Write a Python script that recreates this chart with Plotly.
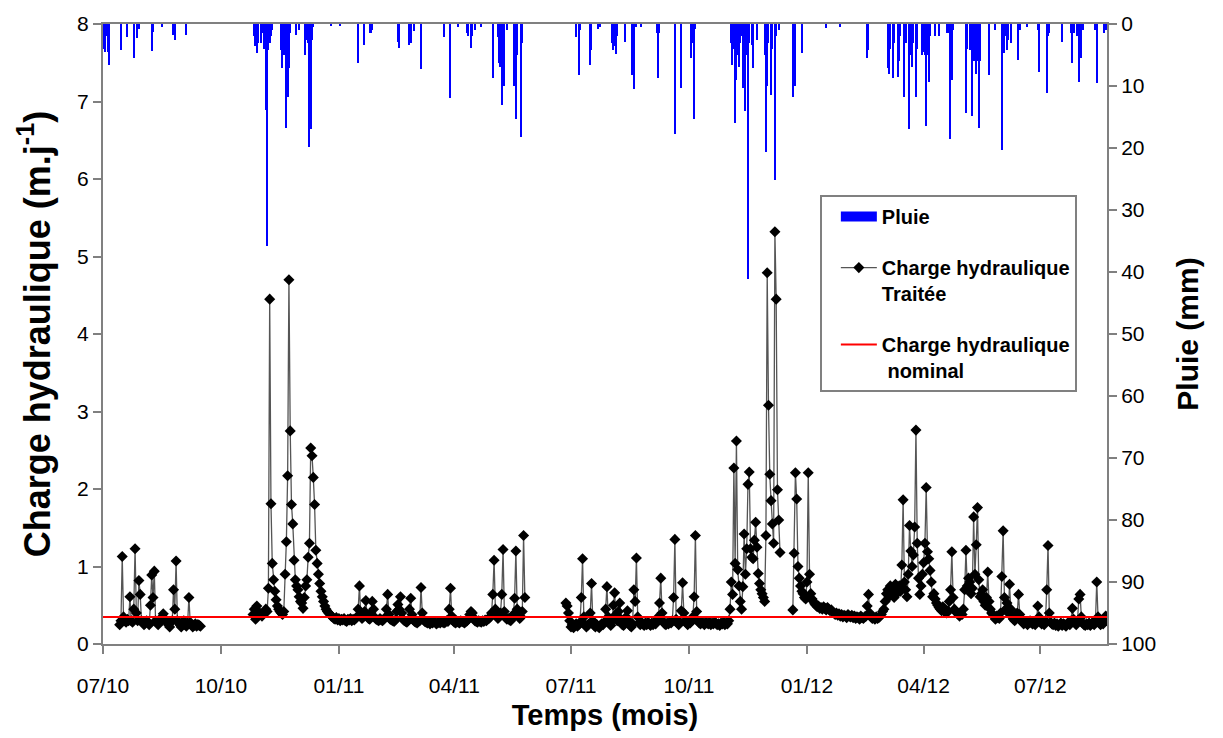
import pandas as pd
import plotly.graph_objects as go

# ---------------- DATA ----------------
RECORD_START = "2010-07-01"
AXIS_END = "2012-08-22"
NOMINAL = 0.35  # m.j-1

# Charge hydraulique traitée (m.j-1), daily values for each measurement period
SEG1_START = "2010-07-14"
SEG1 = [0.25, 0.30, 1.13, 0.35, 0.30, 0.28, 0.32, 0.30, 0.61, 0.30,
        0.28, 0.45, 1.23, 0.40, 0.30, 0.82, 0.64, 0.30, 0.28, 0.25,
        0.27, 0.30, 0.28, 0.25, 0.50, 0.89, 0.60, 0.94, 0.30, 0.27,
        0.25, 0.28, 0.30, 0.35, 0.39, 0.33, 0.30, 0.28, 0.25, 0.22,
        0.28, 0.30, 0.70, 0.45, 1.07, 0.30, 0.27, 0.25, 0.22, 0.28,
        0.30, 0.25, 0.23, 0.27, 0.60, 0.28, 0.25, 0.22, 0.24, 0.26,
        0.23, 0.25, 0.24, 0.23]

SEG2_START = "2010-10-26"
SEG2 = [0.38, 0.45, 0.32, 0.49, 0.42, 0.40, 0.38, 0.36, 0.40, 0.42,
        0.45, 0.42, 0.72, 4.45, 1.81, 1.04, 0.83, 0.68, 0.57, 0.49,
        0.45, 0.42, 0.40, 0.38, 0.42, 0.90, 1.32, 2.17, 4.70, 2.75,
        1.80, 1.55, 1.08, 0.83, 0.75, 0.70, 0.61, 0.55, 0.53, 0.46,
        0.60, 0.75, 0.83, 1.12, 1.30, 2.53, 2.43, 2.15, 1.80, 1.21,
        1.04, 0.90, 0.78, 0.68, 0.61, 0.55, 0.49, 0.45, 0.42, 0.40,
        0.38, 0.36, 0.35, 0.33, 0.32, 0.34, 0.31, 0.33, 0.30, 0.32,
        0.31, 0.33, 0.30, 0.29, 0.32, 0.31, 0.33, 0.30, 0.32, 0.31,
        0.33, 0.35, 0.45, 0.75, 0.38, 0.33, 0.35, 0.42, 0.56, 0.36,
        0.33, 0.32, 0.40, 0.55, 0.45, 0.34, 0.32, 0.31, 0.30, 0.33,
        0.31, 0.30, 0.32, 0.34, 0.45, 0.64, 0.38, 0.32, 0.31, 0.30,
        0.29, 0.31, 0.42, 0.51, 0.45, 0.61, 0.40, 0.32, 0.30, 0.29,
        0.28, 0.30, 0.45, 0.59, 0.38, 0.31, 0.29, 0.28, 0.27, 0.29,
        0.30, 0.73, 0.40, 0.31, 0.29, 0.28, 0.27, 0.28, 0.26, 0.28,
        0.27, 0.29, 0.28, 0.26, 0.27, 0.28, 0.27, 0.29, 0.28, 0.27,
        0.28, 0.30, 0.29, 0.45, 0.72, 0.36, 0.30, 0.28, 0.27, 0.29,
        0.28, 0.27, 0.30, 0.29, 0.28, 0.27, 0.29, 0.30, 0.33, 0.38,
        0.42, 0.40, 0.34, 0.30, 0.29, 0.28, 0.30, 0.29, 0.28, 0.30,
        0.29, 0.31, 0.30, 0.32, 0.33, 0.35, 0.40, 0.64, 1.08, 0.45,
        0.36, 0.33, 0.35, 0.40, 0.64, 1.22, 0.42, 0.34, 0.32, 0.33,
        0.31, 0.30, 0.33, 0.38, 0.59, 1.20, 0.45, 0.36, 0.33, 0.35,
        0.42, 1.40, 0.60]

SEG3_START = "2011-06-27"
SEG3 = [0.53, 0.49, 0.40, 0.30, 0.22, 0.25, 0.21, 0.24, 0.26, 0.23,
        0.25, 0.28, 0.60, 1.10, 0.35, 0.25, 0.22, 0.24, 0.26, 0.40,
        0.78, 0.30, 0.24, 0.22, 0.25, 0.23, 0.21, 0.24, 0.26, 0.25,
        0.28, 0.45, 0.74, 0.35, 0.27, 0.24, 0.30, 0.50, 0.66, 0.38,
        0.30, 0.42, 0.53, 0.32, 0.25, 0.24, 0.28, 0.35, 0.43, 0.30,
        0.24, 0.22, 0.26, 0.70, 0.55, 1.11, 0.35, 0.27, 0.25, 0.28,
        0.26, 0.24, 0.27, 0.25, 0.28, 0.26, 0.24, 0.27, 0.25, 0.28,
        0.26, 0.30, 0.35, 0.53, 0.85, 0.40, 0.29, 0.26, 0.25, 0.27,
        0.26, 0.28, 0.27, 0.30, 0.60, 1.35, 0.32, 0.27, 0.25, 0.28,
        0.43, 0.79, 0.40, 0.30, 0.27, 0.25, 0.28, 0.27, 0.30, 0.35,
        0.61, 1.40, 0.42, 0.30, 0.27, 0.26, 0.28, 0.27, 0.25, 0.28,
        0.27, 0.26, 0.28, 0.25, 0.27, 0.26, 0.28, 0.27, 0.25, 0.26,
        0.24, 0.27, 0.26, 0.28, 0.25, 0.27, 0.26, 0.30, 0.45, 0.80,
        0.64, 2.27, 1.04, 2.62, 0.96, 0.75, 0.55, 0.45, 0.74, 1.42,
        0.90, 1.23, 2.06, 2.22, 1.23, 1.12, 1.10, 1.34, 1.57, 1.25,
        0.91, 0.78, 0.70, 0.65, 0.60, 0.55, 1.40, 4.79, 3.08, 2.19,
        1.85, 1.55, 1.30, 5.32, 4.45, 1.99, 1.60, 1.18]

SEG4_START = "2011-12-21"
SEG4 = [0.44, 1.17, 2.21, 1.87, 1.00, 0.85, 0.75, 0.68, 0.65, 0.60,
        0.58, 0.80, 2.21, 0.90, 0.65, 0.58, 0.55, 0.52, 0.50, 0.48,
        0.49, 0.46, 0.47, 0.45, 0.48, 0.46, 0.44, 0.47, 0.45, 0.43,
        0.44, 0.42, 0.40, 0.38, 0.40, 0.37, 0.39, 0.36, 0.38, 0.35,
        0.37, 0.36, 0.34, 0.38, 0.36, 0.35, 0.37, 0.34, 0.36, 0.33,
        0.35, 0.34, 0.32, 0.36, 0.34, 0.33, 0.35, 0.36, 0.49, 0.64,
        0.40, 0.35, 0.33, 0.34, 0.32, 0.35, 0.33, 0.34, 0.36, 0.38,
        0.42, 0.45, 0.55, 0.65, 0.70, 0.61, 0.75, 0.68, 0.72, 0.60,
        0.77, 0.65, 0.70, 0.75, 0.68, 1.02, 1.86, 0.80, 0.70, 0.61,
        0.90, 1.53, 1.20, 1.00, 1.15, 1.51, 2.76, 1.30, 0.85, 0.64,
        0.75, 0.90, 1.05, 1.30, 2.02, 1.19, 1.10, 0.95, 0.80, 0.61,
        0.65, 0.58, 0.53, 0.50, 0.47, 0.45, 0.43, 0.48, 0.42, 0.44,
        0.40, 0.43, 0.55, 0.70, 1.19, 0.60, 0.45, 0.42, 0.40, 0.38,
        0.36, 0.40, 0.38, 0.45, 0.70, 1.21, 0.75, 0.85, 0.80, 0.65,
        0.72, 1.64, 0.90, 1.28, 1.76, 0.83, 0.61, 0.65, 0.70, 0.55,
        0.50, 0.60, 0.93, 0.55, 0.45, 0.40, 0.38, 0.35, 0.32, 0.36,
        0.34, 0.33, 0.40, 0.87, 1.46, 0.60, 0.45, 0.53, 0.40, 0.77,
        0.45, 0.35, 0.32, 0.30, 0.34, 0.40, 0.64, 0.38, 0.30, 0.28,
        0.26, 0.29, 0.27, 0.25, 0.28, 0.30, 0.27, 0.26, 0.28, 0.25,
        0.30, 0.49, 0.35, 0.28, 0.26, 0.27, 0.25, 0.30, 0.70, 1.27,
        0.40, 0.28, 0.26, 0.25, 0.27, 0.24, 0.26, 0.23, 0.25, 0.27,
        0.24, 0.26, 0.25, 0.23, 0.26, 0.28, 0.25, 0.30, 0.46, 0.32,
        0.27, 0.25, 0.30, 0.58, 0.64, 0.35, 0.27, 0.25, 0.24, 0.26,
        0.25, 0.27, 0.24, 0.26, 0.28, 0.25, 0.30, 0.80, 0.35, 0.27,
        0.25, 0.28, 0.26, 0.30, 0.36]

# Pluie (mm): day of record (days since RECORD_START) and daily rainfall
RAIN_DAY = [1, 2, 3, 4, 5, 14, 19, 24, 27, 28, 38, 39, 46, 55, 56, 65,
            118, 119, 120, 121, 123, 124, 126, 127, 128, 129, 130, 131, 132,
            139, 140, 141, 142, 143, 144, 145, 146, 151, 153, 158, 159, 160,
            161, 162, 163, 164, 178, 185, 199, 204, 208, 209, 210,
            230, 231, 239, 240, 243, 248, 266, 271, 277, 284, 285, 287, 288,
            290, 295, 304, 308, 309, 310, 311, 313, 315, 321, 322, 323, 326,
            327, 369, 371, 372, 380, 381, 386, 388, 397, 398, 399, 400, 401,
            407, 413, 414, 416, 420, 432, 433, 434, 446, 451, 459, 460, 461,
            462, 490, 491, 492, 493, 494, 495, 496, 497, 498, 499, 500, 501,
            502, 503, 504, 506, 507, 510, 516, 517, 518, 519, 521, 522, 524,
            525, 527, 538, 539, 540, 545, 564, 575, 596, 597, 612, 613, 614,
            616, 617, 620, 621, 622, 625, 626, 629, 630, 631, 632, 634, 635,
            639, 640, 641, 642, 643, 644, 645, 649, 652, 658, 659, 660, 661,
            662, 663, 673, 674, 676, 677, 678, 679, 680, 681, 682, 683, 684,
            691, 696, 701, 702, 703, 704, 705, 706, 708, 714, 715, 721, 729,
            730, 736, 737, 738, 748, 755, 756, 757, 760, 761, 763, 764, 774,
            775, 781, 782]
RAIN_MM = [4.0, 4.5, 2.0, 4.5, 6.6, 4.2, 2.1, 5.5, 2.3, 0.8, 4.4, 1.3, 0.5, 1.8, 2.6, 1.7,
           2.0, 3.5, 4.6, 3.0, 3.1, 1.5, 4.0, 13.8, 35.8, 4.2, 3.1, 2.0, 1.0,
           4.2, 7.1, 5.0, 3.0, 16.7, 11.7, 7.1, 1.5, 1.7, 1.0, 5.0, 2.6, 3.0,
           19.9, 17.0, 2.6, 0.5, 0.3, 0.4, 6.3, 3.4, 1.5, 1.5, 1.0,
           2.9, 3.9, 3.4, 3.0, 1.2, 7.3, 2.1, 11.9, 0.5, 1.5, 2.0, 3.9, 2.0,
           1.0, 0.5, 8.7, 2.1, 6.3, 7.0, 13.0, 10.0, 1.0, 10.0, 15.4, 5.0, 18.2,
           3.0, 2.1, 8.2, 1.0, 6.6, 4.2, 0.8, 0.5, 3.1, 4.2, 3.5, 4.8, 2.0,
           2.9, 8.2, 10.5, 0.5, 0.5, 1.5, 8.7, 1.5, 17.8, 10.3, 5.5, 3.0, 15.4,
           0.8, 3.0, 6.6, 4.0, 15.9, 9.0, 5.0, 7.0, 3.0, 2.0, 10.3, 8.0, 14.1,
           5.0, 41.2, 3.0, 3.4, 7.1, 2.5, 5.0, 20.7, 10.0, 3.0, 11.4, 4.0, 25.2,
           2.0, 1.0, 11.7, 3.0, 10.0, 4.7, 0.7, 0.5, 5.5, 4.2, 7.1, 8.0, 4.0,
           8.7, 3.0, 8.5, 6.0, 2.0, 11.7, 3.0, 17.0, 5.0, 7.0, 3.0, 11.7, 4.0,
           5.0, 4.5, 5.0, 16.5, 5.0, 9.3, 2.0, 2.0, 2.0, 1.5, 1.0, 1.5, 18.6,
           9.0, 1.0, 14.3, 4.0, 4.2, 3.0, 14.9, 6.0, 4.0, 8.0, 6.0, 16.7, 6.0,
           8.2, 1.0, 20.3, 3.0, 4.7, 2.0, 4.2, 2.5, 3.0, 5.8, 1.0, 0.5, 1.0,
           7.7, 11.1, 2.0, 1.5, 2.9, 1.5, 6.3, 1.5, 2.0, 9.3, 5.5, 1.0, 1.0,
           9.5, 1.5, 1.0]

# ---------------- BUILD ----------------
seg_x, seg_y = [], []
for start, vals in [(SEG1_START, SEG1), (SEG2_START, SEG2), (SEG3_START, SEG3), (SEG4_START, SEG4)]:
    dates = pd.date_range(start, periods=len(vals), freq="D")
    seg_x += list(dates) + [None]
    seg_y += list(vals) + [None]

rain_x = pd.Timestamp(RECORD_START) + pd.to_timedelta(RAIN_DAY, unit="D")

FONT = "Liberation Sans, Arial, sans-serif"
AXC = "#808080"

fig = go.Figure()
fig.add_trace(go.Bar(x=rain_x, y=RAIN_MM, yaxis="y2", marker=dict(color="#0000FF", line=dict(width=0)),
                     width=1.0 * 86400000, showlegend=False, name="Pluie"))
fig.add_trace(go.Scatter(x=[None], y=[None], yaxis="y2", mode="lines", name="<b>Pluie</b>",
                         line=dict(color="#0000FF", width=18), legendgroup="a"))
fig.add_trace(go.Scatter(x=seg_x, y=seg_y, mode="lines+markers", connectgaps=False,
                         name="<b>Charge hydraulique<br>Traitée</b>", legendgroup="b",
                         line=dict(color="#555555", width=1.3),
                         marker=dict(symbol="diamond", size=8.5, color="#000000")))
fig.add_trace(go.Scatter(x=[RECORD_START, AXIS_END], y=[NOMINAL, NOMINAL], mode="lines",
                         name="<b>Charge hydraulique<br>\u00a0nominal</b>", legendgroup="c",
                         line=dict(color="#FF0000", width=2)))

fig.update_layout(
    width=1223, height=738,
    margin=dict(l=103, r=116, t=22, b=90),
    plot_bgcolor="white", paper_bgcolor="white",
    bargap=0,
    font=dict(family=FONT, color="black"),
    xaxis=dict(type="date", range=[RECORD_START, AXIS_END], tick0=RECORD_START, dtick="M3",
               tickformat="%m/%y", ticks="outside", ticklen=8, tickcolor=AXC, tickwidth=2,
               showline=True, linecolor=AXC, linewidth=2, mirror=True, showgrid=False,
               zeroline=False, tickfont=dict(size=21), ticklabelstandoff=14,
               title=dict(text="<b>Temps (mois)</b>", font=dict(size=29), standoff=8)),
    yaxis=dict(range=[0, 8], dtick=1, ticks="outside", ticklen=8, tickcolor=AXC, tickwidth=2,
               showline=True, linecolor=AXC, linewidth=2, showgrid=False, zeroline=False,
               tickfont=dict(size=21),
               title=dict(text="<b>Charge hydraulique (m.j<sup>-1</sup>)</b>", font=dict(size=36), standoff=16)),
    yaxis2=dict(range=[100, 0], dtick=10, overlaying="y", side="right", anchor="x",
                ticks="outside", ticklen=8, tickcolor=AXC, tickwidth=2,
                showline=True, linecolor=AXC, linewidth=2, showgrid=False, zeroline=False,
                tickfont=dict(size=21),
                title=dict(text="<b>Pluie (mm)</b>", font=dict(size=30), standoff=22)),
    legend=dict(x=0.714, y=0.724, xanchor="left", yanchor="top",
                bordercolor=AXC, borderwidth=2, bgcolor="white",
                font=dict(size=20, family=FONT), valign="top",
                tracegroupgap=22, itemwidth=36, indentation=14, traceorder="grouped"),
)

fig.write_html("out.html")
